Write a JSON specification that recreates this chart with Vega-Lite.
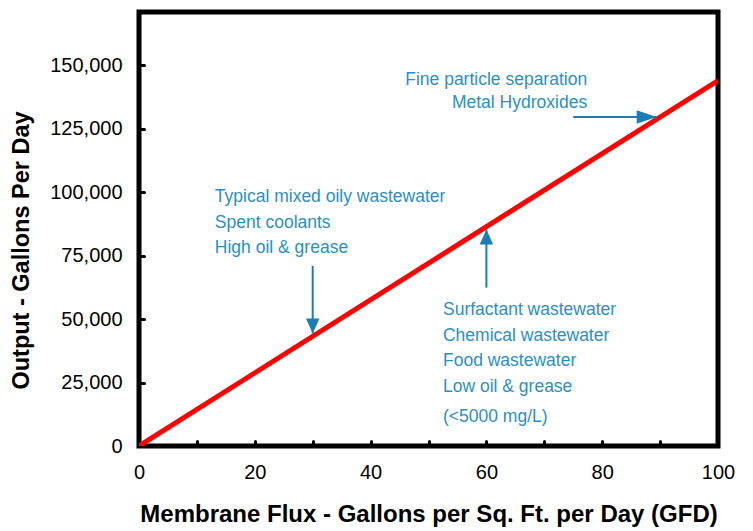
{
  "$schema": "https://vega.github.io/schema/vega-lite/v6.json",
  "width": 579,
  "height": 434,
  "autosize": {"type": "none"},
  "padding": {"left": 139, "top": 12, "right": 35, "bottom": 85},
  "background": "white",
  "config": {
    "view": {"stroke": "black", "strokeWidth": 5},
    "font": "Liberation Sans"
  },
  "datasets": {
    "line": [{"flux": 0, "output": 0}, {"flux": 100, "output": 144000}],
    "arrows": [
      {"id": "a", "x": 30, "y": 71000, "x2": 30, "y2": 44300},
      {"id": "b", "x": 60, "y": 62400, "x2": 60, "y2": 85300},
      {"id": "c", "x": 75, "y": 129600, "x2": 89.4, "y2": 129600}
    ],
    "notes": [
      {"group": "left", "x": 13.1, "y": 98100, "text": "Typical mixed oily wastewater"},
      {"group": "left", "x": 13.1, "y": 88000, "text": "Spent coolants"},
      {"group": "left", "x": 13.1, "y": 78000, "text": "High oil & grease"},
      {"group": "left", "x": 52.5, "y": 53600, "text": "Surfactant wastewater"},
      {"group": "left", "x": 52.5, "y": 43400, "text": "Chemical wastewater"},
      {"group": "left", "x": 52.5, "y": 33500, "text": "Food wastewater"},
      {"group": "left", "x": 52.5, "y": 23300, "text": "Low oil & grease"},
      {"group": "left", "x": 52.5, "y": 11400, "text": "(<5000 mg/L)"},
      {"group": "right", "x": 77.4, "y": 144200, "text": "Fine particle separation"},
      {"group": "right", "x": 77.4, "y": 135100, "text": "Metal Hydroxides"}
    ]
  },
  "layer": [
    {
      "data": {"name": "line"},
      "mark": {"type": "line", "color": "#ff0000", "strokeWidth": 5, "clip": true},
      "encoding": {
        "x": {
          "field": "flux", "type": "quantitative",
          "scale": {"domain": [0, 100], "nice": false, "zero": true},
          "axis": {
            "title": "Membrane Flux - Gallons per Sq. Ft. per Day (GFD)",
            "values": [0, 10, 20, 30, 40, 50, 60, 70, 80, 90, 100],
            "labelExpr": "datum.value % 20 == 0 ? datum.label : ''",
            "domain": false, "grid": false,
            "tickSize": -5, "tickWidth": 3, "tickCap": "round", "tickColor": "black",
            "labelPadding": 21, "labelFontSize": 20, "labelColor": "black",
            "labelFlush": false, "labelOverlap": false,
            "titleFontSize": 24, "titleFontWeight": "bold", "titleColor": "black",
            "titlePadding": 20
          }
        },
        "y": {
          "field": "output", "type": "quantitative",
          "scale": {"domain": [0, 171000], "nice": false, "zero": true},
          "axis": {
            "title": "Output - Gallons Per Day",
            "values": [0, 25000, 50000, 75000, 100000, 125000, 150000],
            "format": ",d",
            "domain": false, "grid": false,
            "tickSize": -5, "tickWidth": 3, "tickCap": "round", "tickColor": "black",
            "labelPadding": 22, "labelFontSize": 20, "labelColor": "black",
            "labelFlush": false, "labelOverlap": false,
            "titleFontSize": 23.5, "titleFontWeight": "bold", "titleColor": "black",
            "titlePadding": 16, "titleY": 238
          }
        }
      }
    },
    {
      "data": {"name": "arrows"},
      "mark": {"type": "rule", "color": "#1a7db6", "strokeWidth": 2},
      "encoding": {
        "x": {"field": "x", "type": "quantitative"},
        "y": {"field": "y", "type": "quantitative"},
        "x2": {"field": "x2"},
        "y2": {"field": "y2"}
      }
    },
    {
      "data": {"name": "arrows"},
      "mark": {"type": "point", "filled": true, "color": "#1a7db6", "opacity": 1, "size": 900, "strokeWidth": 0},
      "encoding": {
        "x": {"field": "x2", "type": "quantitative"},
        "y": {"field": "y2", "type": "quantitative"},
        "shape": {
          "condition": [
            {"test": "datum.id == 'a'", "value": "M0,0L-0.45,-1L0.45,-1Z"},
            {"test": "datum.id == 'b'", "value": "M0,0L-0.45,1L0.45,1Z"}
          ],
          "value": "M0,0L-1.33,-0.45L-1.33,0.45Z"
        }
      }
    },
    {
      "data": {"name": "notes"},
      "transform": [{"filter": "datum.group == 'left'"}],
      "mark": {"type": "text", "align": "left", "baseline": "middle", "font": "Liberation Sans", "fontSize": 17.5, "color": "#2b8fc4"},
      "encoding": {
        "x": {"field": "x", "type": "quantitative"},
        "y": {"field": "y", "type": "quantitative"},
        "text": {"field": "text"}
      }
    },
    {
      "data": {"name": "notes"},
      "transform": [{"filter": "datum.group == 'right'"}],
      "mark": {"type": "text", "align": "right", "baseline": "middle", "font": "Liberation Sans", "fontSize": 17.5, "color": "#2b8fc4"},
      "encoding": {
        "x": {"field": "x", "type": "quantitative"},
        "y": {"field": "y", "type": "quantitative"},
        "text": {"field": "text"}
      }
    }
  ]
}
